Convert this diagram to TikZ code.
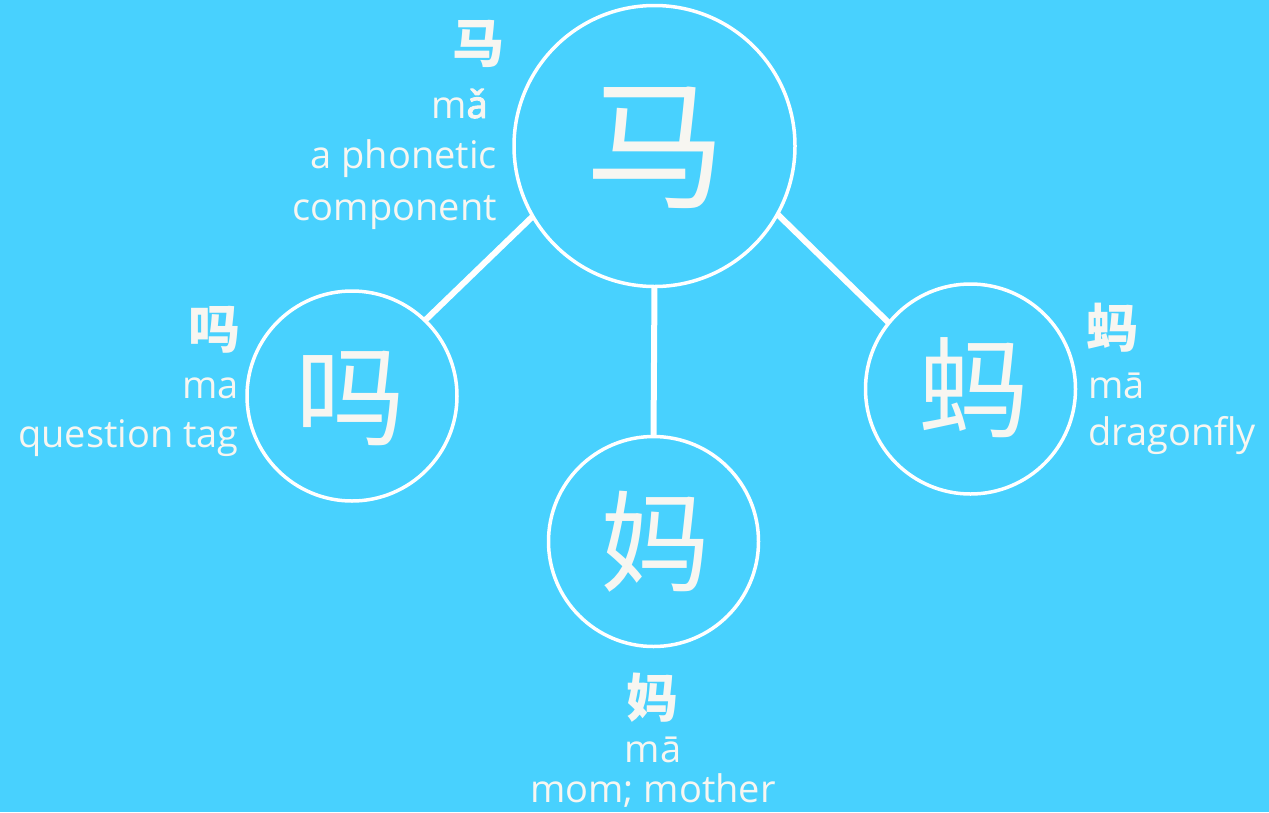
\documentclass[tikz,border=0pt]{standalone}
\usepackage{fontspec}
\setmainfont{Open Sans}
\newfontfamily\cjk{Noto Sans CJK SC}
\newfontfamily\accb{Noto Sans}[FakeBold=2.5]
\definecolor{bg}{HTML}{48D1FE}
\definecolor{ink}{HTML}{F7F6F1}
\begin{document}
\begin{tikzpicture}[x=1pt,y=-1pt,
  ring/.style={circle, draw=white, line width=3.5pt, inner sep=0pt, outer sep=0pt},
  link/.style={draw=white, line width=6pt},
  big/.style={text=ink, inner sep=0pt, font=\cjk\fontsize{#1}{#1}\selectfont},
  small/.style={text=ink, inner sep=0pt, font=\cjk\bfseries\fontsize{52}{52}\selectfont},
  lab/.style={text=ink, inner sep=0pt, font=\fontsize{38}{40}\selectfont}]
\fill[bg] (0,0) rectangle (1269,812);
\useasboundingbox (0,0) rectangle (1269,812);
% circles
\node[ring, minimum size=281pt] (main) at (654.5,146) {};
\node[ring, minimum size=210pt] (left) at (352,396) {};
\node[ring, minimum size=210pt] (bottom) at (653.5,541.5) {};
\node[ring, minimum size=210pt] (right) at (970.5,389) {};
% connectors
\draw[link] (main.210) -- (left.46);
\draw[link] (main.south) -- (bottom.north);
\draw[link] (main.331) -- (right.141.5);
% big characters
\node[big=141] (cmain) at (656,148) {马};
\node[big=110] (cleft) at (350,398) {吗};
\node[big=110] (cbottom) at (655,542) {妈};
\node[big=110] (cright) at (973,388) {蚂};
% top label
\node[small] (tma) at (478,44) {马};
\node[lab, anchor=base east] (tpin) at (488,118) {m{\accb ǎ}};
\node[lab, anchor=base east] (tdef1) at (497,168) {a phonetic};
\node[lab, anchor=base east] (tdef2) at (497,220) {component};
% left label
\node[small] (lma) at (214,330) {吗};
\node[lab, anchor=base east] (lpin) at (239,398) {ma};
\node[lab, anchor=base east] (ldef) at (239,447) {question tag};
% right label
\node[small] (rma) at (1112,328) {蚂};
\node[lab, anchor=base west] (rpin) at (1088,398) {mā};
\node[lab, anchor=base west] (rdef) at (1088,445) {dragonfly};
% bottom label
\node[small] (bma) at (652,698) {妈};
\node[lab, anchor=base] (bpin) at (653,762) {mā};
\node[lab, anchor=base] (bdef) at (653,802) {mom; mother};
\end{tikzpicture}
\end{document}
